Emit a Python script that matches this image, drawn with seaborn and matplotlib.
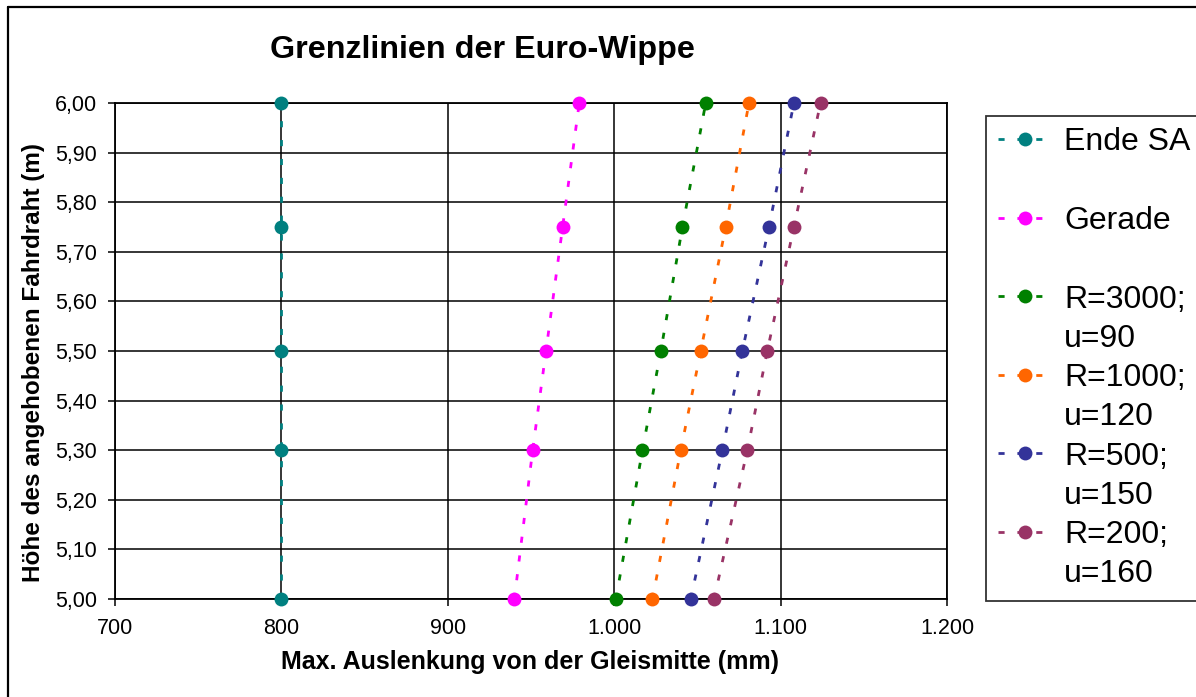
import matplotlib
matplotlib.use("Agg")
import matplotlib.pyplot as plt
from matplotlib.lines import Line2D
import seaborn as sns
import pandas as pd

# Fahrdrahthöhe (m) und maximale Auslenkung (mm) je Grenzlinie
hoehe = [5.00, 5.30, 5.50, 5.75, 6.00]
ende_sa = [800, 800, 800, 800, 800]
gerade = [940, 951, 959, 969, 979]
r3000_u90 = [1001, 1017, 1028, 1041, 1055]
r1000_u120 = [1023, 1040, 1052, 1067, 1081]
r500_u150 = [1046, 1065, 1077, 1093, 1108]
r200_u160 = [1060, 1080, 1092, 1108, 1124]

serien = ["Ende SA", "Gerade", "R=3000;\nu=90", "R=1000;\nu=120",
          "R=500;\nu=150", "R=200;\nu=160"]
werte = [ende_sa, gerade, r3000_u90, r1000_u120, r500_u150, r200_u160]
farben = ["#008080", "#FF00FF", "#008000", "#FF6600", "#333399", "#993366"]

x_ticks = [700, 800, 900, 1000, 1100, 1200]
x_labels = ["700", "800", "900", "1.000", "1.100", "1.200"]
y_ticks = [5.0, 5.1, 5.2, 5.3, 5.4, 5.5, 5.6, 5.7, 5.8, 5.9, 6.0]
y_labels = ["5,00", "5,10", "5,20", "5,30", "5,40", "5,50",
            "5,60", "5,70", "5,80", "5,90", "6,00"]

df = pd.DataFrame({
    "serie": [s for s, w in zip(serien, werte) for _ in w],
    "mm": [v for w in werte for v in w],
    "m": [h for _ in werte for h in hoehe],
})

sns.set_theme(style="white")
plt.rcParams["font.family"] = ["Liberation Sans", "DejaVu Sans"]
plt.rcParams["text.color"] = "black"
plt.rcParams["axes.labelcolor"] = "black"

fig = plt.figure(figsize=(11.96, 6.97), dpi=100)
fig.patch.set_facecolor("white")
ax = fig.add_axes([115 / 1196, 1 - 599 / 697, 832 / 1196, 496 / 697])

for s, c in zip(serien, farben):
    sub = df[df["serie"] == s]
    sns.lineplot(data=sub, x="mm", y="m", ax=ax, color=c, orient="y",
                 estimator=None, marker="o", markersize=10,
                 markeredgewidth=0, linewidth=2.0,
                 linestyle=(0, (2.2, 4.6)), legend=False, clip_on=False,
                 zorder=3)

ax.set_xlim(700, 1200)
ax.set_ylim(5.0, 6.0)
ax.set_xticks(x_ticks)
ax.set_xticklabels(x_labels)
ax.set_yticks(y_ticks)
ax.set_yticklabels(y_labels)
ax.grid(True, color="black", linewidth=1.1)
ax.set_axisbelow(True)
for sp in ax.spines.values():
    sp.set_color("black")
    sp.set_linewidth(1.3)
ax.tick_params(axis="both", which="major", direction="out", length=5,
               width=1.1, color="black", labelsize=15.5, labelcolor="black",
               bottom=True, left=True, pad=8)
ax.tick_params(axis="x", pad=9)

ax.set_xlabel("Max. Auslenkung von der Gleismitte (mm)", fontsize=18,
              fontweight="bold", color="black")
ax.xaxis.set_label_coords((530 - 115) / 832, (599 - 662) / 496)
ax.xaxis.label.set_verticalalignment("center")
ax.set_ylabel("Höhe des angehobenen Fahrdraht (m)", fontsize=17.5,
              fontweight="bold", color="black")
ax.yaxis.set_label_coords((34 - 115) / 832, (599 - 362) / 496)
ax.yaxis.label.set_verticalalignment("center")

fig.text(482 / 1196, 1 - 50 / 697, "Grenzlinien der Euro-Wippe",
         fontsize=23.2, fontweight="bold", ha="center", va="center",
         color="black")

# Legende: zweizeilige Einträge als zwei Zeilen, Leerzeilen als Abstand
linien = ax.get_lines()
leer = Line2D([], [], linestyle="none", marker=None)
handles, labels = [], []
for ln, s in zip(linien, serien):
    teile = s.split("\n")
    handles.append(ln)
    labels.append(teile[0])
    handles.append(leer)
    labels.append(teile[1] if len(teile) > 1 else " ")

leg = ax.legend(handles, labels, loc="upper left",
                bbox_to_anchor=(986 / 1196, 1 - 116 / 697),
                bbox_transform=fig.transFigure, borderaxespad=0,
                fontsize=23, frameon=True, fancybox=False, shadow=False,
                handlelength=1.75, handletextpad=0.34, labelspacing=0.29,
                borderpad=0.36)
leg.get_frame().set_edgecolor("black")
leg.get_frame().set_linewidth(1.3)
leg.get_frame().set_facecolor("white")
for t in leg.get_texts():
    t.set_color("black")

# Rahmen des Diagrammbereichs
fig.add_artist(Line2D([8 / 1196, 1.0], [1 - 7 / 697, 1 - 7 / 697],
                      transform=fig.transFigure, color="black", linewidth=1.6))
fig.add_artist(Line2D([8 / 1196, 8 / 1196], [0.0, 1 - 7 / 697],
                      transform=fig.transFigure, color="black", linewidth=1.6))

fig.savefig("out.png", dpi=100, facecolor="white")
